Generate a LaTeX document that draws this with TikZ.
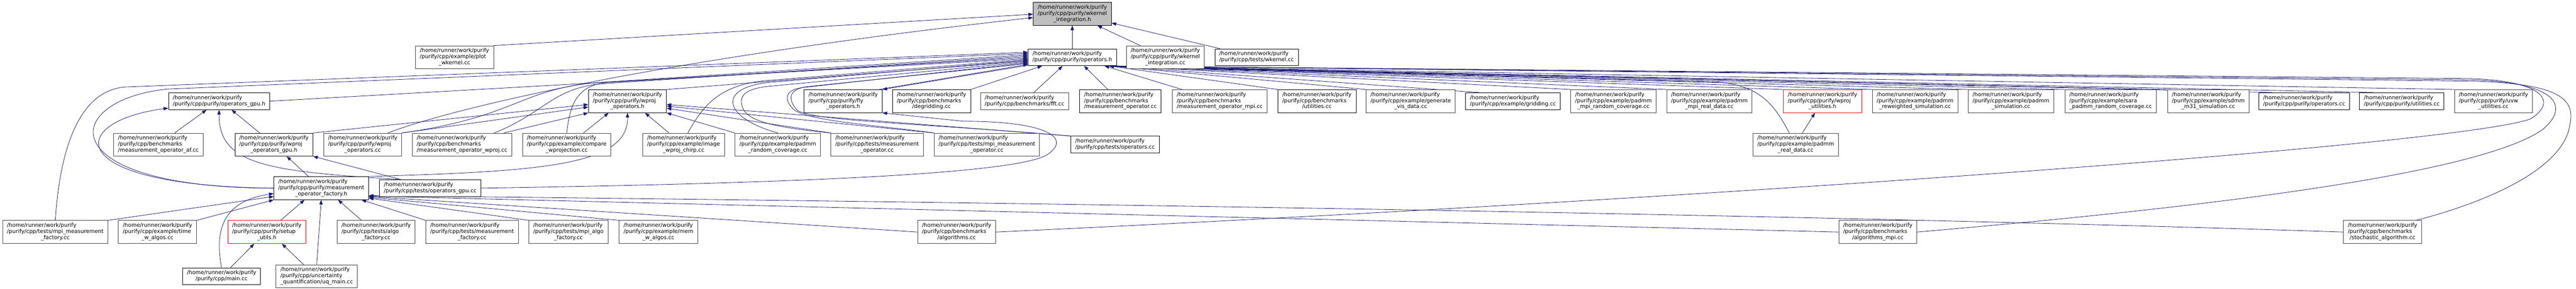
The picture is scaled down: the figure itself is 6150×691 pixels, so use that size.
\documentclass[tikz,border=0pt]{standalone}
\usepackage{fontspec}
\usetikzlibrary{arrows.meta,backgrounds}
\newfontfamily\doxface{DejaVu Sans}
\newcommand{\doxfont}{\doxface\fontsize{12.9}{14.6}\selectfont}
\definecolor{edgeblue}{HTML}{191970}
\definecolor{boxgrey}{HTML}{404040}
\definecolor{rootgrey}{HTML}{BFBFBF}
\newcommand{\hroot}{/home/runner/work/purify}
\newcommand{\pthree}[2]{\begin{tabular}{@{}l@{}}\hroot\\#1\\\multicolumn{1}{@{}c@{}}{#2}\end{tabular}}
\newcommand{\ptwo}[1]{\begin{tabular}{@{}l@{}}\hroot\\\multicolumn{1}{@{}c@{}}{#1}\end{tabular}}

\begin{document}
\begin{tikzpicture}[x=1pt,y=-1pt,
    incbox/.style={draw=black,fill=white,line width=1pt,inner xsep=10.5pt,inner ysep=5.6pt,font=\doxfont},
    ccbox/.style={incbox,draw=boxgrey},
    redbox/.style={incbox,draw=red},
    rootbox/.style={incbox,fill=rootgrey},
    incl/.style={color=edgeblue,line width=1pt,-{Triangle[length=11pt,width=8pt]}}]
    \useasboundingbox (0,0) rectangle (6150,691);

    % the file itself
    \node[rootbox] (wkih) at (2560,33) {\pthree{/purify/cpp/purify/wkernel}{\_integration.h}};

    % first row of includers
    \node[ccbox] (pwk) at (1085,137) {\pthree{/purify/cpp/example/plot}{\_wkernel.cc}};
    \node[incbox] (oph) at (2560,137) {\ptwo{/purify/cpp/purify/operators.h}};
    \node[ccbox] (wkic) at (2782,137) {\pthree{/purify/cpp/purify/wkernel}{\_integration.cc}};
    \node[incbox] (twk) at (3000,137) {\ptwo{/purify/cpp/tests/wkernel.cc}};

    % second row
    \node[incbox] (ogh) at (523,242) {\ptwo{/purify/cpp/purify/operators\_gpu.h}};
    \node[incbox] (woh) at (1498,242) {\pthree{/purify/cpp/purify/wproj}{\_operators.h}};
    \node[incbox] (foh) at (2013,242) {\pthree{/purify/cpp/purify/fly}{\_operators.h}};
    \node[incbox] (dgr) at (2224,242) {\pthree{/purify/cpp/benchmarks}{/degridding.cc}};
    \node[ccbox] (fft) at (2446,242) {\ptwo{/purify/cpp/benchmarks/fft.cc}};
    \node[incbox] (bmo) at (2675,242) {\pthree{/purify/cpp/benchmarks}{/measurement\_operator.cc}};
    \node[ccbox] (bmom) at (2912,242) {\pthree{/purify/cpp/benchmarks}{/measurement\_operator\_mpi.cc}};
    \node[incbox] (but) at (3144,242) {\pthree{/purify/cpp/benchmarks}{/utilities.cc}};
    \node[ccbox] (gvd) at (3368,242) {\pthree{/purify/cpp/example/generate}{\_vis\_data.cc}};
    \node[incbox] (grd) at (3612,242) {\ptwo{/purify/cpp/example/gridding.cc}};
    \node[ccbox] (pmrc) at (3852,242) {\pthree{/purify/cpp/example/padmm}{\_mpi\_random\_coverage.cc}};
    \node[ccbox] (pmrd) at (4081,242) {\pthree{/purify/cpp/example/padmm}{\_mpi\_real\_data.cc}};
    \node[redbox] (wuh) at (4351,242) {\pthree{/purify/cpp/purify/wproj}{\_utilities.h}};
    \node[ccbox] (prs) at (4572,242) {\pthree{/purify/cpp/example/padmm}{\_reweighted\_simulation.cc}};
    \node[ccbox] (psim) at (4801,242) {\pthree{/purify/cpp/example/padmm}{\_simulation.cc}};
    \node[ccbox] (sprc) at (5039,242) {\pthree{/purify/cpp/example/sara}{\_padmm\_random\_coverage.cc}};
    \node[ccbox] (sm31) at (5272,242) {\pthree{/purify/cpp/example/sdmm}{\_m31\_simulation.cc}};
    \node[incbox] (opc) at (5501,242) {\ptwo{/purify/cpp/purify/operators.cc}};
    \node[incbox] (utc) at (5734,242) {\ptwo{/purify/cpp/purify/utilities.cc}};
    \node[ccbox] (uvwc) at (5953,242) {\pthree{/purify/cpp/purify/uvw}{\_utilities.cc}};

    % third row
    \node[ccbox] (bmaf) at (378,346) {\pthree{/purify/cpp/benchmarks}{/measurement\_operator\_af.cc}};
    \node[incbox] (wogh) at (654,346) {\pthree{/purify/cpp/purify/wproj}{\_operators\_gpu.h}};
    \node[ccbox] (woc) at (866,346) {\pthree{/purify/cpp/purify/wproj}{\_operators.cc}};
    \node[ccbox] (bmwp) at (1103,346) {\pthree{/purify/cpp/benchmarks}{/measurement\_operator\_wproj.cc}};
    \node[ccbox] (cwp) at (1353,346) {\pthree{/purify/cpp/example/compare}{\_wprojection.cc}};
    \node[ccbox] (iwc) at (1632,346) {\pthree{/purify/cpp/example/image}{\_wproj\_chirp.cc}};
    \node[ccbox] (prc) at (1857,346) {\pthree{/purify/cpp/example/padmm}{\_random\_coverage.cc}};
    \node[ccbox] (tmo) at (2094,346) {\pthree{/purify/cpp/tests/measurement}{\_operator.cc}};
    \node[ccbox] (tmmo) at (2356,346) {\pthree{/purify/cpp/tests/mpi\_measurement}{\_operator.cc}};
    \node[incbox] (tops) at (2662,346) {\ptwo{/purify/cpp/tests/operators.cc}};
    \node[ccbox] (prd) at (4287,346) {\pthree{/purify/cpp/example/padmm}{\_real\_data.cc}};

    % fourth row
    \node[incbox] (mofh) at (767,450) {\pthree{/purify/cpp/purify/measurement}{\_operator\_factory.h}};
    \node[incbox] (togc) at (1027,450) {\ptwo{/purify/cpp/tests/operators\_gpu.cc}};

    % fifth row
    \node[ccbox] (tmmf) at (132,555) {\pthree{/purify/cpp/tests/mpi\_measurement}{\_factory.cc}};
    \node[ccbox] (twa) at (376,555) {\pthree{/purify/cpp/example/time}{\_w\_algos.cc}};
    \node[redbox] (suh) at (637,555) {\pthree{/purify/cpp/purify/setup}{\_utils.h}};
    \node[ccbox] (taf) at (898,555) {\pthree{/purify/cpp/tests/algo}{\_factory.cc}};
    \node[ccbox] (tmf) at (1127,555) {\pthree{/purify/cpp/tests/measurement}{\_factory.cc}};
    \node[ccbox] (tmaf) at (1357,555) {\pthree{/purify/cpp/tests/mpi\_algo}{\_factory.cc}};
    \node[ccbox] (mwa) at (1572,555) {\pthree{/purify/cpp/example/mem}{\_w\_algos.cc}};
    \node[ccbox] (balg) at (2284,555) {\pthree{/purify/cpp/benchmarks}{/algorithms.cc}};
    \node[ccbox] (balm) at (4483,555) {\pthree{/purify/cpp/benchmarks}{/algorithms\_mpi.cc}};
    \node[ccbox] (bsto) at (5688,555) {\pthree{/purify/cpp/benchmarks}{/stochastic\_algorithm.cc}};

    % last row
    \node[incbox] (mainc) at (529,661) {\ptwo{/purify/cpp/main.cc}};
    \node[ccbox] (uqm) at (756,661) {\pthree{/purify/cpp/uncertainty}{\_quantification/uq\_main.cc}};

    \begin{scope}[on background layer]
    \fill[white] (0,0) rectangle (6150,691);

    % edges into the wkernel header
    \draw[incl] (oph) -- (wkih);
    \draw[incl] (wkic) -- (wkih);
    \draw[incl] (twk) -- (wkih);
    \draw[incl] (pwk.north east) -- ([yshift=-1pt]wkih.west);
    \draw[incl] ([xshift=60pt]woc.north) .. controls (1050,270) and (1500,150) .. ([yshift=-9pt]wkih.west);

    % edges into operators.h from the left
    \draw[incl] (tmmf.north) .. controls (145,330) and (200,215) .. (300,208) -- ([yshift=12pt]oph.west);
    \draw[incl] (mofh.west) .. controls (120,450) and (140,240) .. (400,213) -- ([yshift=9pt]oph.west);
    \draw[incl] (woc.north east) .. controls (1230,280) and (1240,215) .. (1420,198) -- ([yshift=6pt]oph.west);
    \draw[incl] ([xshift=77pt]bmwp.north) .. controls (1300,270) and (1320,210) .. (1440,200) -- ([yshift=3pt]oph.west);
    \draw[incl] (cwp.north) .. controls (1360,260) and (1370,205) .. (1450,197) -- (oph.west);
    \draw[incl] (ogh.east) -- ([yshift=-3pt]oph.west);
    \draw[incl] ([xshift=10pt]iwc.north) .. controls (1680,250) and (1720,200) .. (1840,192) -- ([yshift=-5pt]oph.west);
    \draw[incl] (prc.north) .. controls (1720,280) and (1710,205) .. (1850,196) -- ([yshift=-7pt]oph.west);
    \draw[incl] (woh.north east) -- ([yshift=-9pt]oph.west);
    \draw[incl] (tmo.north west) .. controls (1850,305) and (1790,290) .. (1775,262)
        .. controls (1762,235) and (1770,212) .. (1840,206) -- ([yshift=-11pt]oph.west);
    \draw[incl] (tmmo.north west) .. controls (2100,300) and (1930,290) .. (1895,262)
        .. controls (1872,240) and (1870,214) .. (1920,209) -- ([yshift=-13pt]oph.west);
    \draw[incl] (tops.north west) .. controls (2200,295) and (1950,290) .. (1905,265)
        .. controls (1880,240) and (1880,212) .. (1930,207) -- ([yshift=-15pt]oph.west);
    \draw[incl] ([xshift=-8pt]foh.north east) -- ([yshift=-17pt]oph.west);
    \draw[incl] ([yshift=-19pt]oph.west) -- (foh.north east);

    % edges into operators.h from the right
    \draw[incl] (dgr.north east) -- ([xshift=-72pt]oph.south);
    \draw[incl] ([xshift=22pt]fft.north) -- ([xshift=-23pt]oph.south);
    \draw[incl] ([xshift=-30pt]bmo.north) -- ([xshift=28pt]oph.south);
    \draw[incl] ([xshift=-90pt]bmom.north) -- ([xshift=77pt]oph.south);
    \foreach \src in {but,gvd,pmrc,pmrd,wuh,prs,psim,sprc,sm31,uvwc}
        \draw[incl] (\src.north west) -- ([xshift=88pt]oph.south);
    \foreach \src in {grd,opc,utc}
        \draw[incl] ([xshift=33pt]\src.north west) -- ([xshift=88pt]oph.south);
    \draw[incl] ([xshift=-15pt]prd.north) .. controls (4240,260) and (4210,205) .. (4100,196) -- ([xshift=88pt]oph.south);
    % the long loops round the right side
    \draw[incl] (balg.east) .. controls (4000,480) and (5850,350) .. (6040,285)
        .. controls (6100,250) and (6090,195) .. (5900,188) -- ([xshift=88pt]oph.south);
    \draw[incl] (balm.east) .. controls (5100,510) and (5900,430) .. (6070,310)
        .. controls (6130,260) and (6120,198) .. (5900,191) -- ([xshift=88pt]oph.south);
    \draw[incl] ([xshift=80pt]bsto.north) .. controls (5950,480) and (6120,400) .. (6135,300)
        .. controls (6148,240) and (6120,200) .. (5900,194) -- ([xshift=88pt]oph.south);

    % edges into wproj_operators.h
    \draw[incl] (wogh.north east) -- ([yshift=-8pt]woh.west);
    \draw[incl] (woc.north east) -- ([yshift=-14pt]woh.west);
    \draw[incl] ([xshift=100pt]bmwp.north) -- (woh.south west);
    \draw[incl] ([xshift=40pt]cwp.north) -- ([xshift=-45pt]woh.south);
    \draw[incl] ([xshift=-35pt]iwc.north) -- ([xshift=42pt]woh.south);
    \draw[incl] (prc.north west) -- (woh.south east);
    \draw[incl] (tmo.north west) -- ([yshift=-17pt]woh.east);
    \draw[incl] (tmmo.north west) -- ([yshift=-12pt]woh.east);
    \draw[incl] (tops.north west) -- ([yshift=-8pt]woh.east);
    \draw[incl] (mofh.north east) .. controls (1300,410) and (1500,395) .. (woh.south);

    % edge into fly_operators.h
    \draw[incl] (togc.east) .. controls (1800,440) and (2420,420) .. (2500,370)
        .. controls (2560,330) and (2500,290) .. (2300,290) -- (foh.south east);

    % edges into the gpu headers
    \draw[incl] ([xshift=-34pt]wogh.north) -- ([xshift=30pt]ogh.south);
    \draw[incl] ([xshift=39pt]bmaf.north) -- ([xshift=-30pt]ogh.south);
    \draw[incl] (mofh.west) .. controls (140,445) and (160,290) .. ([yshift=4pt]ogh.south west);
    \draw[incl] ([xshift=-70pt]togc.north) .. controls (640,410) and (522,395) .. (ogh.south);
    \draw[incl] (mofh) -- (wogh);
    \draw[incl] ([xshift=-70pt]togc.north) -- (wogh.south east);

    % edges into measurement_operator_factory.h
    \draw[incl] (tmmf.north east) -- ([yshift=-20pt]mofh.west);
    \draw[incl] (twa.north east) -- (mofh.south west);
    \draw[incl] (mainc.north) .. controls (510,540) and (540,480) .. ([yshift=-13pt]mofh.west);
    \draw[incl] ([xshift=33pt]suh.north) -- ([xshift=-40pt]mofh.south);
    \draw[incl] (uqm.north) -- (mofh.south);
    \draw[incl] ([xshift=-35pt]taf.north) -- ([xshift=40pt]mofh.south);
    \draw[incl] (tmf.north west) -- ([xshift=96pt]mofh.south);
    \foreach \src/\dy in {tmaf/4,mwa/6}
        \draw[incl] (\src.north west) -- ([yshift=\dy pt]mofh.south east);
    \foreach \src/\dy in {balg/8,balm/9}
        \draw[incl] (\src.west) -- ([yshift=\dy pt]mofh.south east);
    \draw[incl] (bsto.west) .. controls (5000,535) and (3500,495) .. ([yshift=10pt]mofh.south east);

    % edges into setup_utils.h and wproj_utilities.h
    \draw[incl] ([xshift=21pt]mainc.north) -- ([xshift=-30pt]suh.south);
    \draw[incl] ([xshift=-31pt]uqm.north) -- ([xshift=36pt]suh.south);
    \draw[incl] ([xshift=16pt]prd.north) -- ([xshift=-18pt]wuh.south);
    \end{scope}
\end{tikzpicture}
\end{document}
